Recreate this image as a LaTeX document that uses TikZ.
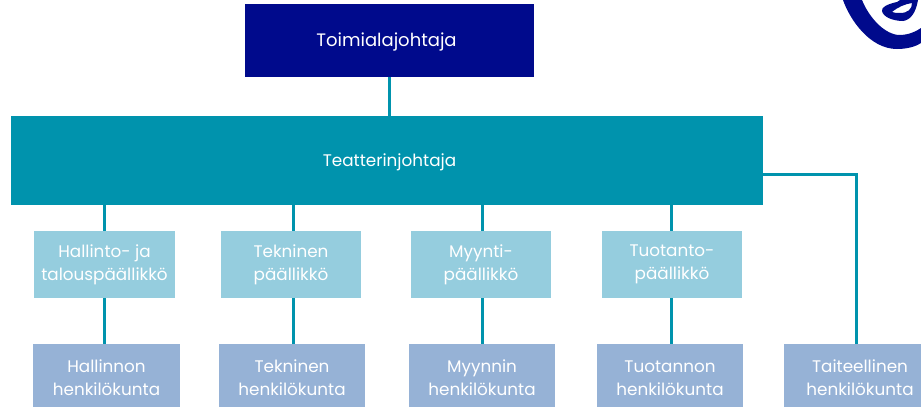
\documentclass[tikz,border=0pt]{standalone}
\usepackage{fontspec}
\setmainfont{Poppins}
\definecolor{navy}{HTML}{000A8C}
\definecolor{teal}{HTML}{0093AD}
\definecolor{lteal}{HTML}{95CDDE}
\definecolor{lblue}{HTML}{96B2D6}
\newcommand{\lift}{\rule{0pt}{17pt}}
\tikzset{
  bx/.style={draw=none,minimum height=#1,inner sep=0pt,align=center,text=white,font=\fontsize{16.8}{23}\selectfont},
  lk/.style={draw=teal,line width=3pt}
}
\begin{document}
\begin{tikzpicture}[x=1pt,y=-1pt]
\useasboundingbox (0,0) rectangle (921,407);
\node[bx=73pt,fill=navy,minimum width=289pt,font=\fontsize{18}{20}\selectfont] (top) at (389.5,40.5) {\rule{0pt}{17pt}\hspace*{-6pt}Toimialajohtaja};
\node[bx=89pt,fill=teal,minimum width=752pt,font=\fontsize{16.8}{20}\selectfont] (th) at (387,160.5) {\rule{0pt}{17pt}\hspace*{5pt}Teatterinjohtaja};
\node[bx=67pt,fill=lteal,minimum width=141pt] (m1) at (104.5,264.5) {Hallinto- ja\\talouspäällikkö};
\node[bx=67pt,fill=lteal,minimum width=140pt] (m2) at (291,264.5) {Tekninen\\päällikkö};
\node[bx=67pt,fill=lteal,minimum width=140pt] (m3) at (481,264.5) {Myynti-\\päällikkö};
\node[bx=67pt,fill=lteal,minimum width=140pt] (m4) at (672,264.5) {Tuotanto-\\päällikkö};
\node[bx=63pt,fill=lblue,minimum width=147pt] (s1) at (106.5,375.5) {\lift Hallinnon\\henkilökunta};
\node[bx=63pt,fill=lblue,minimum width=146pt] (s2) at (292,375.5) {\lift Tekninen\\henkilökunta};
\node[bx=63pt,fill=lblue,minimum width=146pt] (s3) at (482,375.5) {\lift Myynnin\\henkilökunta};
\node[bx=63pt,fill=lblue,minimum width=146pt] (s4) at (670,375.5) {\lift Tuotannon\\henkilökunta};
\node[bx=63pt,fill=lblue,minimum width=152pt] (s5) at (860,375.5) {\lift Taiteellinen\\henkilökunta};
\coordinate (t1) at (104,205); \coordinate (t2) at (293,205); \coordinate (t3) at (482,205); \coordinate (t4) at (671,205);
\coordinate (tr) at (763,174); \coordinate (bend) at (856,174); \coordinate (s5t) at (856,344);
\coordinate (t0) at (389.5,77);
\draw[lk] (t0) -- (t0 |- th.north);
\draw[lk] (t1) -- (t1 |- m1.north);
\draw[lk] (t2) -- (t2 |- m2.north);
\draw[lk] (t3) -- (t3 |- m3.north);
\draw[lk] (t4) -- (t4 |- m4.north);
\draw[lk] (t1 |- m1.south) -- (t1 |- s1.north);
\draw[lk] (t2 |- m2.south) -- (t2 |- s2.north);
\draw[lk] (t3 |- m3.south) -- (t3 |- s3.north);
\draw[lk] (t4 |- m4.south) -- (t4 |- s4.north);
\draw[lk] (tr) -- (bend) -- (s5t);
% logo
\fill[navy] (843,0) .. controls (850,20) and (870,49) .. (897,49) .. controls (906,49) and (915,47) .. (921,43) -- (921,28) .. controls (912,34) and (905,35) .. (898,35) .. controls (882,33) and (868,15) .. (862,0) -- cycle;
\fill[navy,even odd rule] (897,2) .. controls (888,4) and (881,7) .. (882,11) .. controls (883,17) and (893,21) .. (903,21) .. controls (911,20) and (916,12) .. (918,0) -- (900,0) -- cycle
 (892,12) .. controls (898,7) and (905,4) .. (912,3) .. controls (912,9) and (908,13) .. (900,13) .. controls (897,13) and (894,13) .. (892,12) -- cycle;
\end{tikzpicture}
\end{document}
